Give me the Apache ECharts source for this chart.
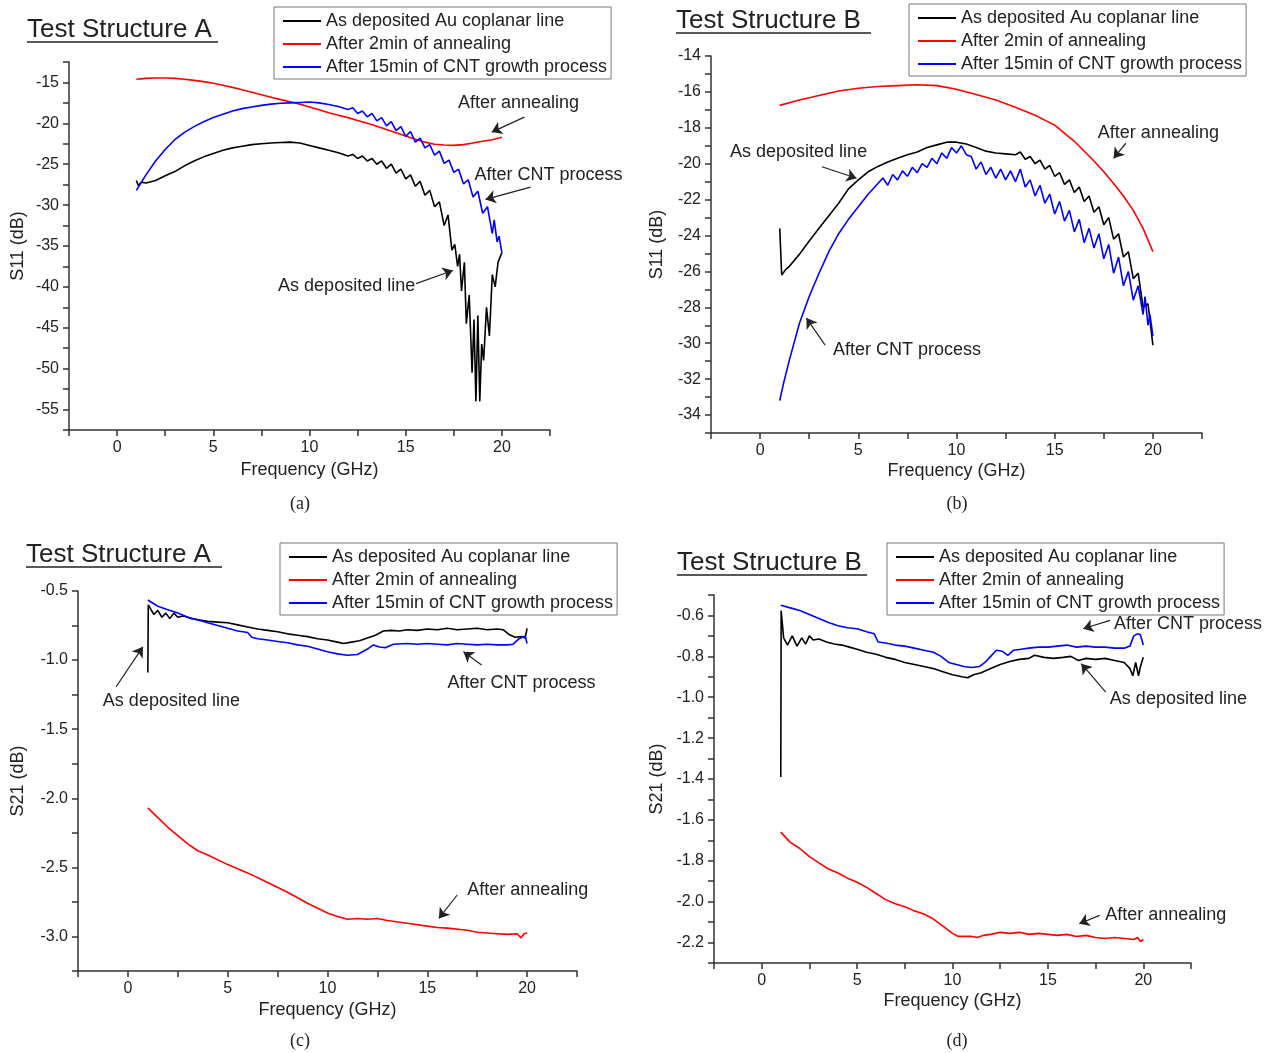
<!DOCTYPE html>
<html>
<head>
<meta charset="utf-8">
<title>S11 / S21 of test structures</title>
<script src="https://cdn.jsdelivr.net/npm/echarts@6/dist/echarts.min.js"></script>
<style>
    html, body {margin: 0; padding: 0; background: #fff;}
    #chart {width: 1269px; height: 1053px;}
</style>
</head>
<body>
<div id="chart"></div>
<script>
// series names / colours (same in every panel)
var seriesNames = ['As deposited Au coplanar line', 'After 2min of annealing', 'After 15min of CNT growth process'];
var seriesColors = ['#000000', '#ff0000', '#0000ff'];

// (a) S11, test structure A
var freqA_dep = [1, 1.1, 1.25, 1.5, 2, 2.5, 3, 3.5, 4, 4.5, 5, 5.5, 6, 6.5, 7, 7.5, 8, 8.5, 9, 9.5, 10, 10.5, 11, 11.5, 12,
    12.25, 12.5, 12.75, 13, 13.25, 13.5, 13.75, 14, 14.25, 14.5, 14.75, 15, 15.25, 15.5, 15.75, 16, 16.25, 16.5, 16.75, 17,
    17.2, 17.4, 17.55, 17.7, 17.8, 17.9, 18.05, 18.15, 18.3, 18.45, 18.55, 18.65, 18.75, 18.85, 18.95, 19.05, 19.2, 19.35, 19.5, 19.65, 19.8, 20];
var s11A_dep = [-27.0, -27.6, -27.2, -27.3, -27.0, -26.4, -25.9, -25.2, -24.6, -24.1, -23.7, -23.3, -23.0, -22.8, -22.6, -22.5, -22.4, -22.35, -22.3, -22.4, -22.7, -23.0, -23.3, -23.6, -24.0,
    -23.8, -24.3, -24.0, -24.6, -24.3, -25.0, -24.6, -25.5, -25.0, -26.1, -25.6, -26.8, -26.3, -27.7, -27.1, -28.8, -28.2, -30.2, -29.6, -32.5,
    -31.2, -35.5, -34.8, -37.5, -36.0, -40.5, -37.0, -44.5, -41.0, -50.5, -44.0, -54.0, -43.5, -54.0, -47.0, -49.0, -42.5, -46.0, -38.5, -40.0, -37.0, -35.8];
var freqA_ann = [1, 1.5, 2, 2.5, 3, 3.5, 4, 4.5, 5, 5.5, 6, 6.5, 7, 7.5, 8, 8.5, 9, 9.5, 10, 10.5, 11, 11.5, 12, 12.5, 13, 13.5, 14, 14.5, 15, 15.5, 16, 16.5, 17, 17.5, 18, 18.5, 19, 19.5, 20];
var s11A_ann = [-14.6, -14.5, -14.45, -14.45, -14.5, -14.6, -14.75, -14.9, -15.1, -15.35, -15.6, -15.9, -16.2, -16.5, -16.8, -17.1, -17.35, -17.65, -18.0, -18.35,
    -18.7, -19.0, -19.3, -19.65, -20.0, -20.35, -20.75, -21.15, -21.55, -21.95, -22.3, -22.55, -22.65, -22.7, -22.6, -22.4, -22.2, -22.0, -21.7];
var freqA_cnt = [1, 1.5, 2, 2.5, 3, 3.5, 4, 4.5, 5, 5.5, 6, 6.5, 7, 7.5, 8, 8.5, 9, 9.5, 10, 10.5, 11, 11.5, 12,
    12.25, 12.5, 12.75, 13, 13.25, 13.5, 13.75, 14, 14.25, 14.5, 14.75, 15, 15.25, 15.5, 15.75, 16, 16.25, 16.5, 16.75, 17, 17.25, 17.5, 17.75, 18, 18.25, 18.5, 18.75, 19, 19.25, 19.5,
    19.6, 19.75, 19.85, 20];
var s11A_cnt = [-28.2, -26.3, -24.6, -23.2, -22.0, -21.1, -20.4, -19.8, -19.3, -18.9, -18.5, -18.2, -18.0, -17.8, -17.65, -17.55, -17.5, -17.45, -17.4, -17.5, -17.7, -17.95, -18.3,
    -18.1, -18.8, -18.5, -19.2, -18.8, -19.7, -19.3, -20.3, -19.8, -20.9, -20.4, -21.6, -21.0, -22.3, -21.8, -23.0, -22.6, -23.9, -23.4, -24.9, -24.5, -26.0, -25.6, -27.4, -26.9, -29.0, -28.3, -31.0, -30.2, -33.5,
    -31.8, -34.5, -33.8, -35.8];

// (b) S11, test structure B
var freqB_dep = [1, 1.1, 1.3, 1.5, 2, 2.5, 3, 3.5, 4, 4.5, 5, 5.5, 6, 6.5, 7, 7.5, 8, 8.5, 9, 9.5, 10, 10.5, 11, 11.5, 12, 12.5, 13,
    13.25, 13.5, 13.75, 14, 14.25, 14.5, 14.75, 15, 15.25, 15.5, 15.75, 16, 16.25, 16.5, 16.75, 17, 17.25, 17.5, 17.75, 18, 18.25, 18.5, 18.75, 19, 19.25, 19.5, 19.75, 20];
var s11B_dep = [-23.6, -26.2, -25.9, -25.7, -25.05, -24.3, -23.6, -22.9, -22.2, -21.4, -20.9, -20.45, -20.15, -19.9, -19.7, -19.5, -19.35, -19.1, -18.95, -18.8, -18.8, -18.9, -19.1, -19.3, -19.4, -19.45, -19.5,
    -19.35, -19.75, -19.6, -20.0, -19.8, -20.3, -20.1, -20.7, -20.5, -21.15, -20.9, -21.6, -21.3, -22.1, -21.8, -22.7, -22.4, -23.4, -23.0, -24.2, -23.9, -25.2, -24.9, -26.4, -26.1, -28.0, -27.8, -30.1];
var freqB_ann = [1, 2, 3, 4, 5, 6, 7, 8, 9, 10, 11, 12, 13, 14, 15, 16, 17, 17.5, 18, 18.5, 19, 19.5, 20];
var s11B_ann = [-16.75, -16.45, -16.2, -15.95, -15.8, -15.7, -15.65, -15.6, -15.65, -15.85, -16.15, -16.45, -16.85, -17.3, -17.85, -18.75, -19.85, -20.45, -21.1, -21.8, -22.6, -23.6, -24.9];
var freqB_cnt = [1, 1.2, 1.5, 2, 2.5, 3, 3.5, 4, 4.5, 5, 5.5, 6,
    6.25, 6.5, 6.75, 7, 7.25, 7.5, 7.75, 8, 8.25, 8.5, 8.75, 9, 9.25, 9.5, 9.75, 10, 10.25, 10.5, 10.75, 11, 11.25, 11.5, 11.75, 12,
    12.25, 12.5, 12.75, 13, 13.25, 13.5, 13.75, 14, 14.25, 14.5, 14.75, 15, 15.25, 15.5, 15.75, 16, 16.25, 16.5, 16.75, 17,
    17.25, 17.5, 17.75, 18, 18.25, 18.5, 18.75, 19, 19.25, 19.5, 19.6, 19.75, 19.85, 20];
var s11B_cnt = [-33.2, -32.2, -30.9, -28.9, -27.4, -26.1, -24.9, -23.9, -23.1, -22.4, -21.7, -21.1,
    -20.8, -21.2, -20.6, -20.9, -20.4, -20.7, -20.2, -20.5, -20.0, -20.2, -19.7, -20.0, -19.4, -19.7, -19.1, -19.4, -19.0, -19.5, -19.6, -20.3, -19.9, -20.6, -20.2, -20.8,
    -20.3, -20.9, -20.4, -21.0, -20.3, -21.3, -20.9, -21.8, -21.2, -22.2, -21.7, -22.8, -22.1, -23.2, -22.6, -23.8, -23.1, -24.4, -23.6, -24.7,
    -23.9, -25.3, -24.5, -26.1, -25.2, -26.8, -26.0, -27.6, -26.8, -28.4, -27.4, -29.0, -28.4, -29.6];

// (c) S21, test structure A
var freqC_dep = [1, 1.02, 1.1, 1.3, 1.5, 1.7, 1.9, 2.1, 2.3, 2.5, 2.8, 3.2, 3.6, 4, 4.5, 5, 5.5, 6, 6.5, 7, 7.5, 8, 8.5, 9, 9.5, 10, 10.5,
    10.8, 11.2, 11.6, 12, 12.4, 12.8, 13.2, 13.6, 14, 14.5, 15, 15.5, 16, 16.5, 17, 17.5, 18, 18.5, 18.8, 19.1, 19.4, 19.7, 19.9, 20];
var s21C_dep = [-1.09, -0.60, -0.62, -0.67, -0.64, -0.69, -0.66, -0.70, -0.66, -0.69, -0.68, -0.70, -0.71, -0.72, -0.725, -0.73, -0.745, -0.76, -0.775, -0.785, -0.795, -0.81, -0.82, -0.83, -0.845, -0.855, -0.87,
    -0.88, -0.87, -0.86, -0.84, -0.82, -0.79, -0.785, -0.79, -0.78, -0.785, -0.775, -0.78, -0.77, -0.78, -0.775, -0.77, -0.78, -0.775, -0.78, -0.815, -0.835, -0.83, -0.84, -0.77];
var freqC_ann = [1, 1.5, 2, 2.5, 3, 3.5, 4, 5, 6, 7, 8, 9, 10, 10.5, 11, 11.5, 12, 12.5, 13, 14, 15, 15.5, 16, 17, 17.5, 18, 18.5, 19, 19.5, 19.7, 19.85, 20];
var s21C_ann = [-2.07, -2.14, -2.21, -2.27, -2.33, -2.38, -2.41, -2.48, -2.54, -2.61, -2.68, -2.76, -2.83, -2.855, -2.875, -2.87, -2.875, -2.87, -2.885, -2.905, -2.925, -2.935, -2.94,
    -2.955, -2.97, -2.975, -2.98, -2.985, -2.98, -3.01, -2.98, -2.975];
var freqC_cnt = [1, 1.5, 2, 2.5, 3, 3.5, 4, 4.5, 5, 5.5, 6, 6.2, 6.5, 7, 7.5, 8, 8.5, 9, 9.5, 10, 10.5, 11, 11.5, 12, 12.3, 12.6, 12.9, 13.3,
    14, 14.5, 15, 15.5, 16, 16.5, 17, 17.5, 18, 18.5, 19, 19.3, 19.6, 19.9, 20];
var s21C_cnt = [-0.565, -0.61, -0.635, -0.66, -0.69, -0.71, -0.73, -0.75, -0.77, -0.79, -0.80, -0.835, -0.845, -0.855, -0.865, -0.875, -0.89, -0.90, -0.92, -0.94, -0.955, -0.965, -0.96, -0.92, -0.89, -0.905, -0.91, -0.885,
    -0.88, -0.885, -0.88, -0.885, -0.89, -0.88, -0.885, -0.89, -0.885, -0.89, -0.89, -0.885, -0.845, -0.825, -0.88];

// (d) S21, test structure B
var freqD_dep = [1, 1.02, 1.15, 1.35, 1.6, 1.85, 2.1, 2.3, 2.5, 2.7, 3.0, 3.4, 3.8, 4.2, 4.6, 5, 5.5, 6, 6.5, 7, 7.5, 8, 8.5, 9, 9.5, 10, 10.5,
    10.8, 11.1, 11.5, 12, 12.5, 13, 13.5, 14, 14.3, 14.8, 15.3, 15.8, 16.2, 16.6, 17, 17.5, 18, 18.5, 19, 19.3, 19.45, 19.6, 19.75, 19.85, 20];
var s21D_dep = [-1.39, -0.576, -0.71, -0.745, -0.70, -0.75, -0.71, -0.74, -0.70, -0.72, -0.715, -0.73, -0.74, -0.745, -0.755, -0.765, -0.78, -0.79, -0.805, -0.815, -0.83, -0.84, -0.85, -0.86, -0.875, -0.89, -0.90,
    -0.905, -0.89, -0.88, -0.86, -0.84, -0.825, -0.815, -0.81, -0.795, -0.805, -0.81, -0.805, -0.80, -0.82, -0.81, -0.815, -0.81, -0.82, -0.83, -0.86, -0.895, -0.83, -0.895, -0.85, -0.805];
var freqD_ann = [1, 1.5, 2, 2.5, 3, 3.5, 4, 4.5, 5, 5.5, 6, 6.5, 7, 7.5, 8, 8.5, 9, 9.5, 10, 10.3, 11, 11.3, 11.6,
    12, 12.5, 13, 13.5, 14, 14.5, 15, 15.5, 16, 16.5, 17, 17.5, 18, 18.5, 19, 19.5, 19.7, 19.85, 20];
var s21D_ann = [-1.66, -1.71, -1.74, -1.78, -1.81, -1.84, -1.86, -1.885, -1.905, -1.93, -1.96, -1.99, -2.01, -2.025, -2.045, -2.06, -2.085, -2.12, -2.155, -2.17, -2.17, -2.175, -2.165,
    -2.16, -2.15, -2.155, -2.15, -2.16, -2.155, -2.16, -2.165, -2.16, -2.17, -2.165, -2.175, -2.18, -2.175, -2.18, -2.185, -2.175, -2.195, -2.185];
var freqD_cnt = [1, 1.5, 2, 2.5, 3, 3.5, 4, 4.5, 5, 5.5, 5.9, 6.1, 6.5, 7, 7.5, 8, 8.5, 9, 9.4, 9.8, 10.2, 10.6, 11, 11.4, 11.7,
    12, 12.3, 12.6, 12.9, 13.2, 13.6, 14, 14.5, 15, 15.5, 16, 16.5, 17, 17.5, 18, 18.5, 19, 19.3, 19.5, 19.7, 19.85, 20];
var s21D_cnt = [-0.55, -0.563, -0.576, -0.595, -0.615, -0.635, -0.65, -0.66, -0.665, -0.68, -0.69, -0.73, -0.735, -0.745, -0.75, -0.76, -0.77, -0.78, -0.80, -0.83, -0.84, -0.85, -0.855, -0.85, -0.83,
    -0.80, -0.77, -0.775, -0.795, -0.77, -0.765, -0.76, -0.755, -0.755, -0.75, -0.745, -0.755, -0.75, -0.755, -0.755, -0.76, -0.76, -0.75, -0.70, -0.69, -0.695, -0.745];

// annotations: [x, y, text] and arrows [x1, y1, x2, y2] in data units
var notesA = [[20.86, -17.57, 'After annealing'], [22.42, -26.37, 'After CNT process'], [11.93, -39.94, 'As deposited line']];
var arrowsA = [[21.17, -19.24, 19.47, -21.07], [21.49, -27.8, 19.15, -29.3], [15.54, -39.6, 17.45, -38.0]];
var notesB = [[20.28, -18.29, 'After annealing'], [1.96, -19.35, 'As deposited line'], [7.48, -30.38, 'After CNT process']];
var arrowsB = [[18.62, -18.86, 18.0, -19.7], [3.15, -20.17, 4.91, -20.81], [3.31, -30.1, 2.36, -28.6]];
var notesC = [[2.18, -1.297, 'As deposited line'], [19.72, -1.167, 'After CNT process'], [20.03, -2.667, 'After annealing']];
var arrowsC = [[-0.59, -1.193, 0.75, -0.904], [17.72, -1.036, 16.81, -0.94], [16.5, -2.70, 15.58, -2.87]];
var notesD = [[22.34, -0.644, 'After CNT process'], [21.84, -1.011, 'As deposited line'], [21.18, -2.067, 'After annealing']];
var arrowsD = [[18.25, -0.624, 16.85, -0.665], [18.03, -0.975, 16.75, -0.836], [17.71, -2.067, 16.64, -2.108]];

var FONT = 'Liberation Sans, Arial, sans-serif';

function pts(xs, ys) {
    var out = [];
    for (var i = 0; i < Math.min(xs.length, ys.length); i++) {
        out.push([xs[i], ys[i]]);
    }
    return out;
}

function isMult(v, step) {
    var r = v / step;
    return Math.abs(r - Math.round(r)) < 1e-6;
}

var panels = [
    {
        grid: {left: 69, top: 62, width: 481, height: 368},
        y: {min: -57.5, max: -12.5, interval: 2.5, labelStep: 5, digits: 0, name: 'S11 (dB)', gap: 42},
        xGap: 31,
        legend: {left: 274, top: 7},
        lines: [[freqA_dep, s11A_dep], [freqA_ann, s11A_ann], [freqA_cnt, s11A_cnt]],
        notes: notesA, arrows: arrowsA
    },
    {
        grid: {left: 711, top: 56, width: 491, height: 377},
        y: {min: -35, max: -14, interval: 1, labelStep: 2, digits: 0, name: 'S11 (dB)', gap: 45},
        xGap: 29,
        legend: {left: 909, top: 4},
        lines: [[freqB_dep, s11B_dep], [freqB_ann, s11B_ann], [freqB_cnt, s11B_cnt]],
        notes: notesB, arrows: arrowsB
    },
    {
        grid: {left: 78, top: 591, width: 499, height: 380},
        y: {min: -3.25, max: -0.5, interval: 0.25, labelStep: 0.5, digits: 1, name: 'S21 (dB)', gap: 51},
        xGap: 30,
        legend: {left: 280, top: 543},
        lines: [[freqC_dep, s21C_dep], [freqC_ann, s21C_ann], [freqC_cnt, s21C_cnt]],
        notes: notesC, arrows: arrowsC
    },
    {
        grid: {left: 714, top: 595, width: 477, height: 368},
        y: {min: -2.3, max: -0.5, interval: 0.1, labelStep: 0.2, digits: 1, name: 'S21 (dB)', gap: 48},
        xGap: 29,
        legend: {left: 887, top: 543},
        lines: [[freqD_dep, s21D_dep], [freqD_ann, s21D_ann], [freqD_cnt, s21D_cnt]],
        notes: notesD, arrows: arrowsD
    }
];

var axisLineStyle = {color: '#333', width: 1.5};

var option = {
    animation: false,
    backgroundColor: '#fff',
    grid: [],
    xAxis: [],
    yAxis: [],
    legend: [],
    series: [],
    graphic: []
};

panels.forEach(function (p, k) {
    option.grid.push(p.grid);
    option.xAxis.push({
        type: 'value', gridIndex: k,
        min: -2.5, max: 22.5, interval: 2.5,
        name: 'Frequency (GHz)', nameLocation: 'middle', nameGap: p.xGap,
        nameTextStyle: {fontSize: 18, color: '#222', fontFamily: FONT},
        axisLine: {show: true, onZero: false, lineStyle: axisLineStyle},
        axisTick: {show: true, inside: false, length: 6, lineStyle: axisLineStyle},
        axisLabel: {
            fontSize: 16, color: '#222', fontFamily: FONT, margin: 10,
            showMinLabel: true, showMaxLabel: true,
            formatter: function (v) { return isMult(v, 5) ? String(Math.round(v)) : ''; }
        },
        splitLine: {show: false}
    });
    option.yAxis.push({
        type: 'value', gridIndex: k,
        min: p.y.min, max: p.y.max, interval: p.y.interval,
        name: p.y.name, nameLocation: 'middle', nameGap: p.y.gap,
        nameTextStyle: {fontSize: 18, color: '#222', fontFamily: FONT},
        axisLine: {show: true, onZero: false, lineStyle: axisLineStyle},
        axisTick: {show: true, inside: false, length: 6, lineStyle: axisLineStyle},
        axisLabel: {
            fontSize: 16, color: '#222', fontFamily: FONT, margin: 10,
            showMinLabel: true, showMaxLabel: true,
            formatter: function (v) { return isMult(v, p.y.labelStep) ? v.toFixed(p.y.digits) : ''; }
        },
        splitLine: {show: false}
    });
    option.legend.push({
        left: p.legend.left, top: p.legend.top,
        orient: 'vertical',
        data: seriesNames,
        icon: 'rect', itemWidth: 38, itemHeight: 2, itemGap: 5,
        borderColor: '#777', borderWidth: 1,
        padding: [5, 4, 3, 9],
        selectedMode: false,
        textStyle: {fontSize: 18, color: '#222', fontFamily: FONT}
    });
    p.lines.forEach(function (l, s) {
        var ser = {
            type: 'line', name: seriesNames[s],
            xAxisIndex: k, yAxisIndex: k,
            data: pts(l[0], l[1]),
            showSymbol: false, symbol: 'none',
            lineStyle: {color: seriesColors[s], width: 1.6},
            itemStyle: {color: seriesColors[s]},
            clip: false, silent: true
        };
        if (s === 0) {
            // arrows and their texts hang on the first series
            ser.markLine = {
                silent: true, symbol: ['none', 'arrow'], symbolSize: 10,
                lineStyle: {color: '#222', width: 1.2, type: 'solid'},
                itemStyle: {color: '#222'},
                label: {show: false},
                data: p.arrows.map(function (a) {
                    return [{coord: [a[0], a[1]]}, {coord: [a[2], a[3]]}];
                })
            };
            ser.markPoint = {
                silent: true, symbol: 'circle', symbolSize: 1,
                itemStyle: {color: 'rgba(0,0,0,0)'},
                label: {show: true, position: 'inside', formatter: '{b}', fontSize: 18, color: '#222', fontFamily: FONT},
                data: p.notes.map(function (n) {
                    return {name: n[2], coord: [n[0], n[1]]};
                })
            };
        }
        option.series.push(ser);
    });
});

// panel titles and sub-captions
var titles = [
    ['Test Structure A', 27, 30, 218, 42],
    ['Test Structure B', 676, 21, 871, 33],
    ['Test Structure A', 26, 555, 222, 567],
    ['Test Structure B', 677, 563, 867, 575]
];
titles.forEach(function (t) {
    option.graphic.push({
        type: 'text', x: t[1], y: t[2],
        style: {text: t[0], font: '26px ' + FONT, fill: '#222', align: 'left', verticalAlign: 'middle'}
    });
    option.graphic.push({
        type: 'line', shape: {x1: t[1], y1: t[4], x2: t[3], y2: t[4]},
        style: {stroke: '#222', lineWidth: 1.5}
    });
});
[['(a)', 300, 504], ['(b)', 957, 504], ['(c)', 300, 1041], ['(d)', 957, 1041]].forEach(function (c) {
    option.graphic.push({
        type: 'text', x: c[1], y: c[2],
        style: {text: c[0], font: '18px Liberation Serif, Times New Roman, serif', fill: '#222', align: 'center', verticalAlign: 'middle'}
    });
});

var chart = echarts.init(document.getElementById('chart'), null, {renderer: 'canvas'});
chart.setOption(option);
</script>
</body>
</html>
